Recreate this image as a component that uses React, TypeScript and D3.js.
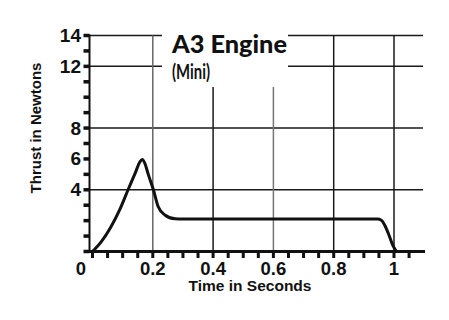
import React from "react";
import * as d3 from "d3";

// Thrust curve (seconds, newtons)
const TIME = [0, 0.03, 0.06, 0.09, 0.118, 0.142, 0.157, 0.165, 0.173, 0.185, 0.202, 0.218, 0.24, 0.274, 0.3, 0.5, 0.7, 0.9, 0.945, 0.958, 0.968, 0.981, 0.995, 1.008];
const THRUST = [0, 0.66, 1.56, 2.7, 4.0, 5.1, 5.8, 5.97, 5.75, 5.0, 4.0, 2.9, 2.37, 2.12, 2.1, 2.1, 2.1, 2.1, 2.1, 2.02, 1.75, 1.18, 0.45, 0];

const X_LABELS = [0, 0.2, 0.4, 0.6, 0.8, 1];
const X_LABEL_TEXT = ["0", "0.2", "0.4", "0.6", "0.8", "1"];
const Y_LABELS = [4, 6, 8, 12, 14];
const X_MINOR = [0, 0.05, 0.1, 0.15, 0.2, 0.25, 0.3, 0.35, 0.4, 0.45, 0.5, 0.55, 0.6, 0.65, 0.7, 0.75, 0.8, 0.85, 0.9, 0.95, 1, 1.05];
const Y_MINOR = [0, 1, 2, 3, 4, 5, 6, 7, 8, 9, 10, 11, 12, 13, 14];
const H_GRID_FULL = [4, 8];
const H_GRID_SPLIT = [12, 14];
const V_GRID_FULL = [0.2, 0.8, 1];
const V_GRID_SHORT = [0.4, 0.6];

const TITLE = "A3 Engine";
const SUBTITLE = "(Mini)";
const X_TITLE = "Time in Seconds";
const Y_TITLE = "Thrust in Newtons";

export default function App() {
  const x = d3.scaleLinear().domain([0, 1]).range([92.5, 394]);
  const y = d3.scaleLinear().domain([0, 14]).range([251.5, 35.5]);
  const pts = TIME.map((t, i) => [t, THRUST[i]] as [number, number]);
  const line = d3
    .line<[number, number]>()
    .x((d) => x(d[0]))
    .y((d) => y(d[1]))
    .curve(d3.curveMonotoneX);

  const axisX = 89.5;
  const gridRight = 423;
  const tickFont = "'Liberation Sans', Arial, sans-serif";
  const gray = new Set([0.2, 0.6]);

  return (
    <div style={{ position: "fixed", left: 0, top: 0 }}>
      <svg width={449} height={320} style={{ display: "block", background: "#fff" }}>
        {/* horizontal grid */}
        {H_GRID_FULL.map((v) => (
          <line key={"hf" + v} x1={axisX} x2={gridRight} y1={y(v)} y2={y(v)} stroke="#1a1a1a" strokeWidth={1.5} />
        ))}
        {H_GRID_SPLIT.map((v) => (
          <g key={"hs" + v}>
            <line x1={axisX} x2={162} y1={y(v)} y2={y(v)} stroke="#1a1a1a" strokeWidth={1.5} />
            <line x1={288} x2={gridRight} y1={y(v)} y2={y(v)} stroke="#1a1a1a" strokeWidth={1.5} />
          </g>
        ))}
        {/* vertical grid */}
        {V_GRID_FULL.map((v) => (
          <line key={"vf" + v} x1={x(v)} x2={x(v)} y1={y(14)} y2={y(0)} stroke={gray.has(v) ? "#666" : "#1a1a1a"} strokeWidth={1.5} />
        ))}
        {V_GRID_SHORT.map((v) => (
          <line key={"vs" + v} x1={x(v)} x2={x(v)} y1={87} y2={y(0)} stroke={gray.has(v) ? "#777" : "#1a1a1a"} strokeWidth={1.5} />
        ))}

        {/* y axis */}
        <line x1={axisX} x2={axisX} y1={y(14) - 1} y2={y(0)} stroke="#111" strokeWidth={2} />
        {Y_MINOR.map((v) => (
          <rect key={"ym" + v} x={83.5} y={y(v) - 1.75} width={6} height={3.5} fill="#111" />
        ))}
        {/* x axis */}
        <line x1={axisX - 1} x2={425} y1={y(0)} y2={y(0)} stroke="#111" strokeWidth={3} />
        {X_MINOR.map((v) => (
          <rect key={"xm" + v} x={x(v) - 1.5} y={y(0)} width={3} height={6.5} fill="#111" />
        ))}

        {/* thrust curve */}
        <path d={line(pts) || ""} fill="none" stroke="#111" strokeWidth={3} strokeLinejoin="round" strokeLinecap="round" />

        {/* tick labels */}
        {Y_LABELS.map((v) => (
          <text key={"yl" + v} x={81} y={y(v) + 6.5} textAnchor="end" fontFamily={tickFont} fontWeight="bold" fontSize={19} fill="#111">
            {v}
          </text>
        ))}
        {X_LABELS.map((v, i) => (
          <text key={"xl" + v} x={i === 0 ? 81 : x(v)} y={275} textAnchor="middle" fontFamily={tickFont} fontWeight="bold" fontSize={18.5} fill="#111">
            {X_LABEL_TEXT[i]}
          </text>
        ))}

        {/* axis titles */}
        <text x={250} y={291} textAnchor="middle" fontFamily={tickFont} fontWeight="bold" fontSize={15.5} fill="#111">
          {X_TITLE}
        </text>
        <text transform="translate(41,128) rotate(-90)" textAnchor="middle" fontFamily={tickFont} fontWeight="bold" fontSize={15} fill="#111">
          {Y_TITLE}
        </text>

        {/* title */}
        <text x={172} y={53} fontFamily="Lato, 'Open Sans', sans-serif" fontWeight={900} fontSize={24.5} fill="#111" textLength={115} lengthAdjust="spacingAndGlyphs">
          {TITLE}
        </text>
        <text x={172} y={79} fontFamily="Lato, 'Open Sans', sans-serif" fontWeight={700} fontSize={20} fill="#111" textLength={38} lengthAdjust="spacingAndGlyphs">
          {SUBTITLE}
        </text>
      </svg>
    </div>
  );
}
